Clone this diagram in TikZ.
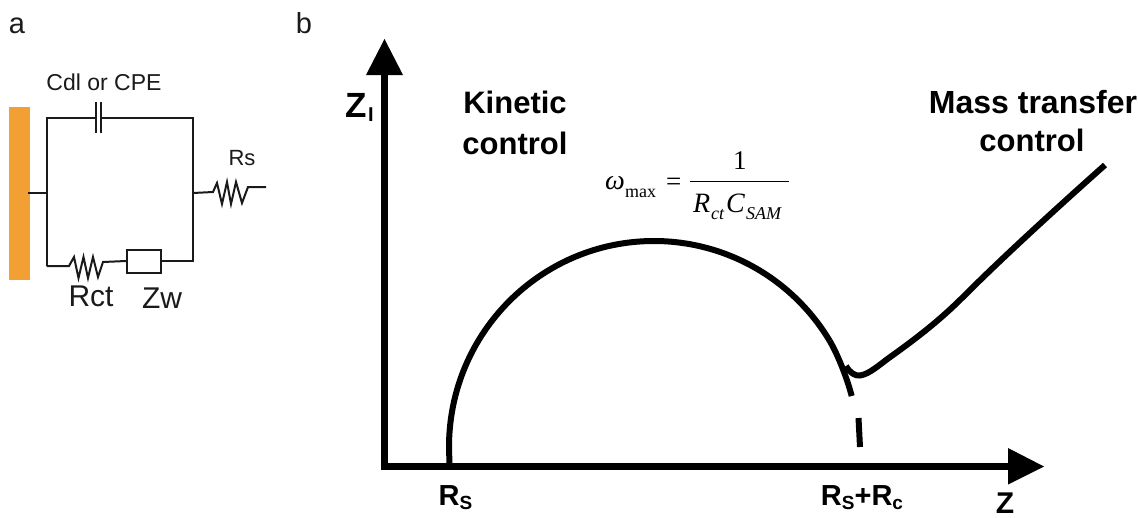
\documentclass[tikz,border=0pt]{standalone}
\usepackage{fontspec}
\setmainfont{Liberation Sans}
\newfontfamily\timesf{Liberation Serif}
\definecolor{electrode}{HTML}{F2A033}
\definecolor{ink}{HTML}{1A1A1A}
\newcommand{\fsz}[1]{\fontsize{#1}{#1}\selectfont}
\tikzset{
  wire/.style={draw=ink,line width=2pt,line join=miter},
  axisline/.style={draw=black,line width=7pt},
  head/.style={fill=black,draw=none},
  curve/.style={draw=black,line width=6pt},
  lab/.style={inner sep=0pt,text=ink,anchor=base},
  blab/.style={inner sep=0pt,text=black,anchor=base,font=\bfseries\fsz{31}},
  eq/.style={inner sep=0pt,text=black,anchor=base west,font=\timesf},
}
\begin{document}
\begin{tikzpicture}[x=1pt,y=-1pt]
\useasboundingbox (0,0) rectangle (1138,517);
\fill[white] (0,0) rectangle (1138,517);
% panel a
\node[lab,font=\fsz{29}] (la) at (17,33) {a};
\node[lab,font=\fsz{29}] (lb) at (304,33) {b};
\node[fill=electrode,inner sep=0pt,minimum width=21pt,minimum height=173pt] (elec) at (19.5,193.5) {};
\coordinate (j1) at (46.5,192.5);
\coordinate (tl) at (46.5,118);
\coordinate (tr) at (193,118);
\coordinate (bl) at (46.5,266);
\coordinate (br) at (193,261);
\coordinate (j2) at (193,193);
\coordinate (cl) at (96,118);
\coordinate (cr) at (101,118);
\node[draw=ink,line width=2pt,minimum width=34pt,minimum height=23pt,inner sep=0pt] (zw) at (144,261) {};
\draw[wire] (28,192.5) -- (j1);
\draw[wire] (bl) -- (tl) -- (cl);
\draw[wire] (cr) -- (tr) -- (br) -- (zw.east);
\draw[wire] (96,102) -- (96,133);
\draw[wire] (101,102) -- (101,133);
\draw[wire] (bl) -- (69,266) -- (74,257) -- (78.5,278) -- (83.5,257) -- (88,278) -- (93,257) -- (98,277) -- (103,262) -- (zw.west);
\draw[wire] (j2) -- (213,192) -- (217,183) -- (222,204) -- (227,182) -- (231,204) -- (236,182) -- (242,203) -- (248,187) -- (266,187);
\node[lab,font=\fsz{23}] (cdl) at (104,90) {Cdl or CPE};
\node[lab,font=\fsz{22}] (rs) at (242,165) {Rs};
\node[lab,font=\fsz{30}] (rct) at (91,306) {Rct};
\node[lab,font=\fsz{30}] (zwl) at (162,308) {Zw};
% panel b axes
\coordinate (o) at (384.5,466.5);
\coordinate (yt) at (384.5,74);
\coordinate (xt) at (1009,466.5);
\draw[axisline] (381,466.5) -- (xt);
\draw[axisline] (384.5,470) -- (yt);
\fill[head] (366,75) -- (384.5,39) -- (403,75) -- cycle;
\fill[head] (1008,448) -- (1044,466.5) -- (1008,484.5) -- cycle;
% curves
\draw[curve] (449.5,465) .. controls (449.5,460) and (449,452) .. (449,447)
  arc[start angle=180,end angle=329,x radius=205,y radius=206] coordinate (arcend);
\draw[curve] (arcend) .. controls (838,355) and (847,378) .. (851.7,396);
\draw[curve] (858.5,418) -- (860,447);
\draw[curve] (846,366) .. controls (850,373) and (855,376) .. (860,375.5)
  .. controls (870,374) and (880,364) .. (893,355)
  .. controls (918,337) and (940,320) .. (963,297)
  .. controls (1000,260) and (1050,214) .. (1105,165);
% labels b
\node[blab,font=\bfseries\fsz{35}] (zi) at (356,117) {Z};
\node[blab,font=\bfseries\fsz{20}] (zis) at (371,121) {I};
\node[blab] (k1) at (515,113) {Kinetic};
\node[blab] (k2) at (515,154) {control};
\node[blab,font=\bfseries\fsz{32}] (m1) at (1033,113) {Mass transfer};
\node[blab,font=\bfseries\fsz{31}] (m2) at (1032,151) {control};
\node[blab,font=\bfseries\fsz{29}] (rs1) at (455.5,505) {R\raisebox{-4pt}{\fsz{19}S}};
\node[blab,font=\bfseries\fsz{29}] (rs2) at (862,505) {R\raisebox{-4pt}{\fsz{19}S}+R\raisebox{-4pt}{\fsz{19}c}};
\node[blab,font=\bfseries\fsz{30}] (zz) at (1005,513) {Z};
% formula
\node[eq,font=\timesf\itshape\fsz{28}] (om) at (605,189) {ω};
\node[eq,font=\timesf\fsz{18}] (mx) at (625,197) {max};
\node[eq,font=\timesf\fsz{27}] (eqs) at (666,190) {=};
\draw[black,line width=1pt] (690,181) -- (789,181);
\node[eq,font=\timesf\fsz{27}] (one) at (733,169) {1};
\node[eq,font=\timesf\itshape\fsz{28}] (r) at (693,212) {R};
\node[eq,font=\timesf\itshape\fsz{18}] (ct) at (711,219) {ct};
\node[eq,font=\timesf\itshape\fsz{28}] (c) at (726,212) {C};
\node[eq,font=\timesf\itshape\fsz{18}] (sam) at (746,219) {SAM};
\end{tikzpicture}
\end{document}
